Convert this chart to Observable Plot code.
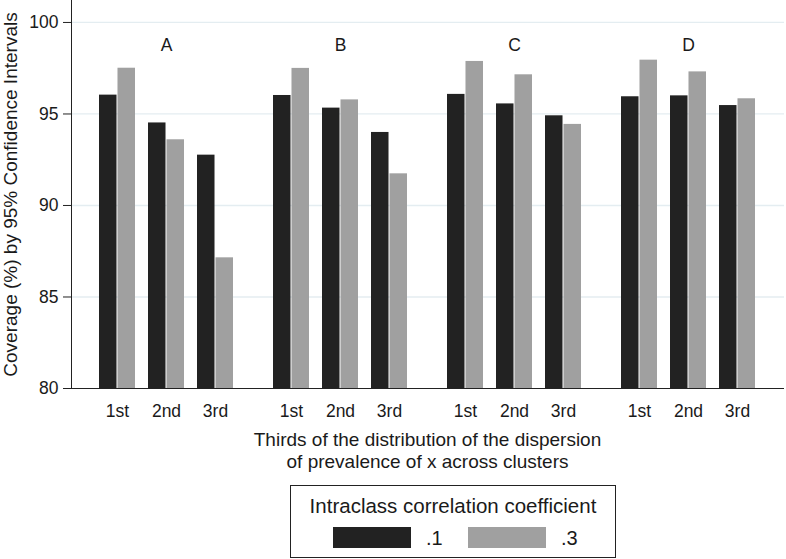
<!DOCTYPE html>
<html>
<head>
<meta charset="utf-8">
<script src="https://cdn.jsdelivr.net/npm/d3@7"></script>
<script src="https://cdn.jsdelivr.net/npm/@observablehq/plot@0.6"></script>
<style>
  body { margin: 0; background: #fff; font-family: "Liberation Sans", Arial, Helvetica, sans-serif; color: #1a1a1a; }
  #wrap { position: relative; width: 786px; height: 559px; overflow: hidden; background: #fff; }
  #wrap svg { position: absolute; left: 0; top: 0; }
  #xtitle { position: absolute; left: 71px; width: 713px; top: 429px; text-align: center; font-size: 19px; line-height: 22px; }
  #legend { position: absolute; left: 290px; top: 485px; width: 324px; height: 71px; border: 1px solid #222; }
  #legend .title { position: absolute; left: 0; width: 100%; top: 8px; text-align: center; font-size: 20.5px; line-height: 24px; }
  #legend .sw { position: absolute; top: 41px; width: 78px; height: 21px; }
  #legend .lab { position: absolute; top: 40px; font-size: 20px; line-height: 24px; }
</style>
</head>
<body>
<div id="wrap"></div>
<script>
// ---- data ----
const groups = ["A", "B", "C", "D"];
const thirds = ["1st", "2nd", "3rd"];
const iccLevels = [".1", ".3"];
const iccColors = ["#222222", "#a0a0a0"];
// coverage (%) by group (A..D) x third (1st..3rd)
const coverageIcc1 = [96.03, 94.51, 92.75, 96.01, 95.32, 93.99, 96.07, 95.55, 94.90, 95.94, 95.99, 95.46];
const coverageIcc3 = [97.50, 93.59, 87.14, 97.49, 95.77, 91.73, 97.87, 97.14, 94.43, 97.94, 97.30, 95.83];
const yTicks = [80, 85, 90, 95, 100];
const yDomain = [80, 101.2];
const yTitle = "Coverage (%) by 95% Confidence Intervals";
const xTitle = ["Thirds of the distribution of the dispersion", "of prevalence of x across clusters"];
const legendTitle = "Intraclass correlation coefficient";

const rows = [];
groups.forEach((g, gi) => thirds.forEach((t, ti) => {
  rows.push({group: g, third: t, icc: iccLevels[0], value: coverageIcc1[gi * 3 + ti]});
  rows.push({group: g, third: t, icc: iccLevels[1], value: coverageIcc3[gi * 3 + ti]});
}));

// ---- layout ----
const W = 786, H = 425, mL = 71, mR = 2, mT = 0, mB = 37;
const fxPadIn = 0.217, fxPadOut = 0.147, xPadIn = 0.26;
const fxStep = (W - mL - mR) / (groups.length - fxPadIn + 2 * fxPadOut);
const fxBand = fxStep * (1 - fxPadIn);
const xStep = fxBand / (thirds.length - xPadIn);
const xBand = xStep * (1 - xPadIn);
const half = xBand / 2;
const font = '"Liberation Sans", Arial, Helvetica, sans-serif';

// background layer: grid, axis lines, y axis
const axes = Plot.plot({
  width: W, height: H, marginLeft: mL, marginRight: mR, marginTop: mT, marginBottom: mB,
  style: {fontFamily: font, fontSize: "17.5px", color: "#1a1a1a", background: "#fff"},
  x: {axis: null, domain: [0, 1]},
  y: {domain: yDomain, axis: null},
  marks: [
    Plot.ruleY(yTicks.filter(v => v > yDomain[0]), {stroke: "#e4edf1", strokeWidth: 1.3}),
    Plot.ruleY([yDomain[0]], {stroke: "#222"}),
    Plot.ruleX([0], {stroke: "#222"}),
    Plot.axisY({ticks: yTicks, tickSize: 8, tickPadding: 5, tickFormat: () => "", stroke: "#222", label: yTitle,
      labelAnchor: "center", labelOffset: 68, labelArrow: "none", fontSize: 19}),
    Plot.text(yTicks, {y: d => d, text: d => String(d), frameAnchor: "left", textAnchor: "end", dx: -13, fontSize: 17.5, fill: "#1a1a1a"})
  ]
});

// bar layer
const bars = Plot.plot({
  width: W, height: H, marginLeft: mL, marginRight: mR, marginTop: mT, marginBottom: mB,
  style: {fontFamily: font, fontSize: "17.5px", color: "#1a1a1a", background: "transparent"},
  fx: {domain: groups, paddingInner: fxPadIn, paddingOuter: fxPadOut, axis: null, label: null},
  x: {domain: thirds, paddingInner: xPadIn, paddingOuter: 0, tickSize: 0, tickPadding: 16, label: null},
  y: {domain: yDomain, axis: null},
  color: {domain: iccLevels, range: iccColors},
  marks: [
    Plot.barY(rows.filter(d => d.icc === iccLevels[0]), {fx: "group", x: "third", y1: yDomain[0], y2: "value", fill: "icc", insetRight: half}),
    Plot.barY(rows.filter(d => d.icc === iccLevels[1]), {fx: "group", x: "third", y1: yDomain[0], y2: "value", fill: "icc", insetLeft: half}),
    Plot.text(groups, {fx: d => d, text: d => d, frameAnchor: "top", dy: 38, fontSize: 17.5})
  ]
});

const wrap = document.getElementById("wrap");
wrap.appendChild(axes);
wrap.appendChild(bars);

const xt = document.createElement("div");
xt.id = "xtitle";
xt.innerHTML = xTitle.join("<br>");
wrap.appendChild(xt);

const lg = document.createElement("div");
lg.id = "legend";
const lt = document.createElement("div");
lt.className = "title";
lt.textContent = legendTitle;
lg.appendChild(lt);
const swLeft = [42, 177], labLeft = [135, 270];
iccLevels.forEach((lev, i) => {
  const sw = document.createElement("div");
  sw.className = "sw";
  sw.style.left = swLeft[i] + "px";
  sw.style.background = iccColors[i];
  lg.appendChild(sw);
  const lb = document.createElement("div");
  lb.className = "lab";
  lb.style.left = labLeft[i] + "px";
  lb.textContent = lev;
  lg.appendChild(lb);
});
wrap.appendChild(lg);
</script>
</body>
</html>
